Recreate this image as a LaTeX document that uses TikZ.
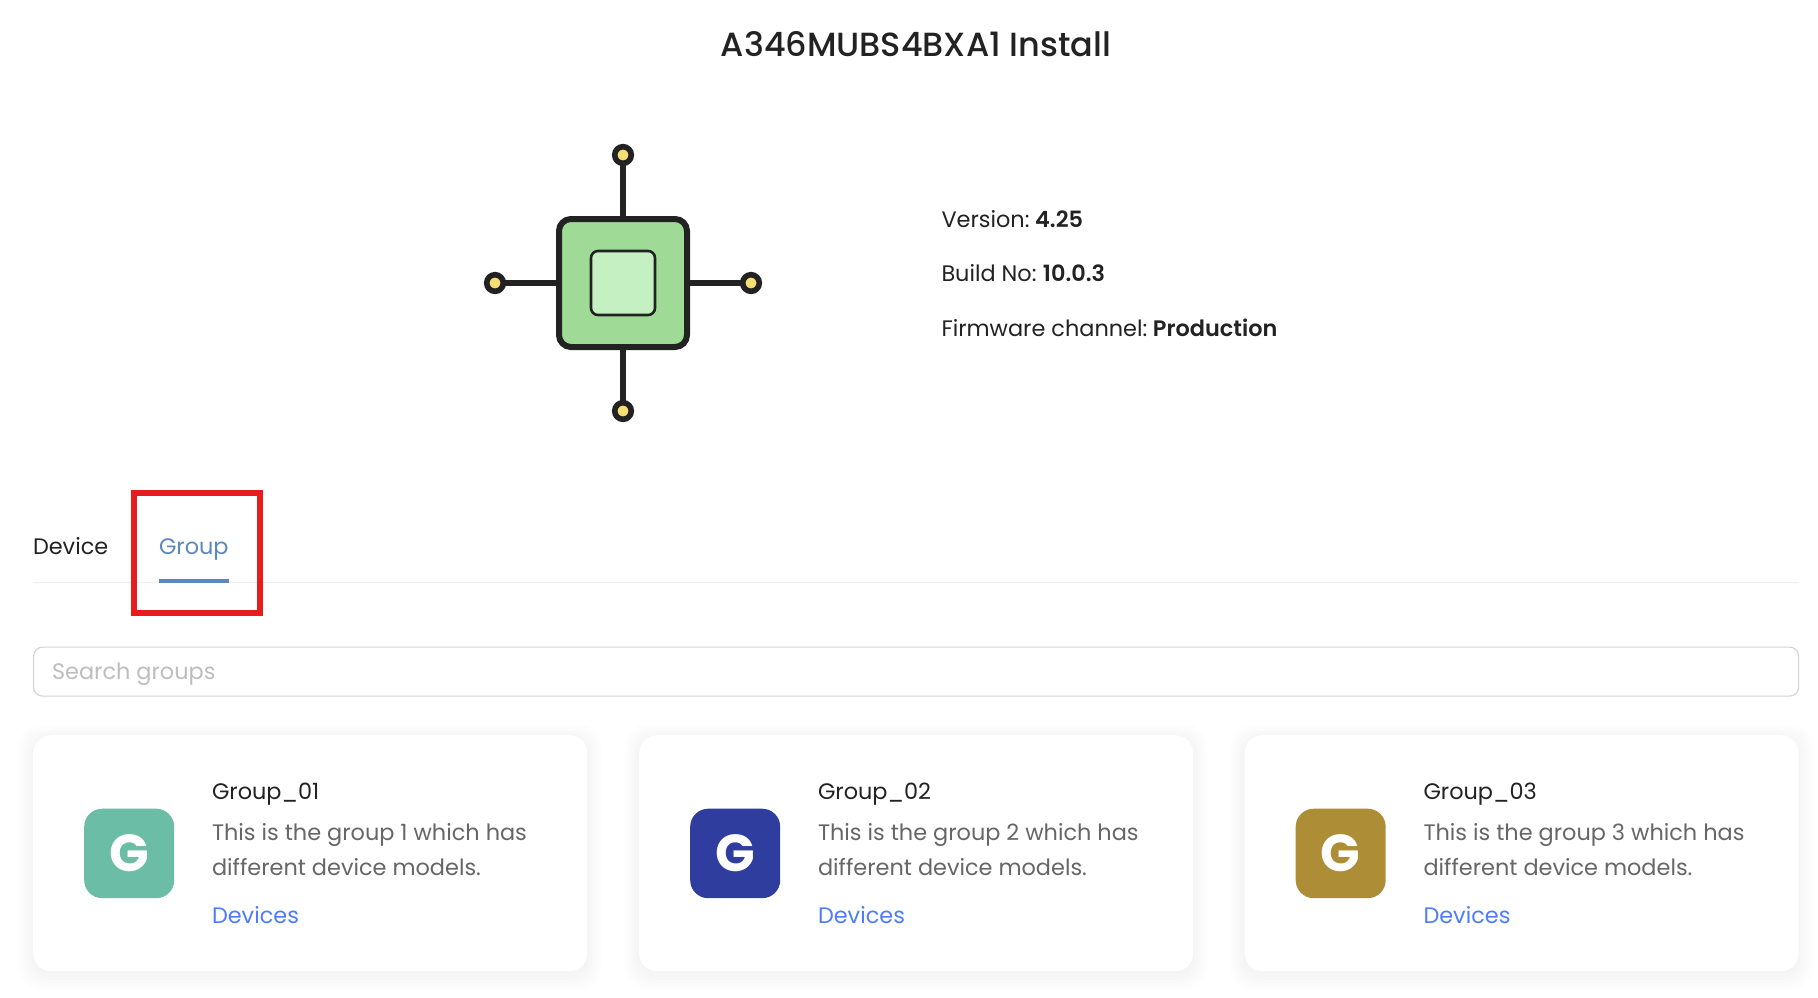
\documentclass[tikz,border=0pt]{standalone}
\usepackage{fontspec}
\setmainfont{Poppins}[BoldFont={Poppins SemiBold}]
\newfontfamily\titlefont{Poppins Medium}
\newfontfamily\gfont{Poppins Bold}
\definecolor{ink}{HTML}{222222}
\definecolor{leaf}{HTML}{9FDB96}
\definecolor{leaflight}{HTML}{C5F1C2}
\definecolor{pin}{HTML}{F5DE73}
\definecolor{tabblue}{HTML}{5B87BC}
\definecolor{linkblue}{HTML}{4D7CFE}
\definecolor{greytext}{HTML}{666666}
\definecolor{holder}{HTML}{BDBDBD}
\definecolor{redbox}{HTML}{E81C1C}
\definecolor{rulegrey}{HTML}{EEEEEE}
\definecolor{boxgrey}{HTML}{D4D4D4}
\definecolor{gteal}{HTML}{6CBDA5}
\definecolor{gblue}{HTML}{2F3E9E}
\definecolor{ggold}{HTML}{AD8D35}
\tikzset{
  txt/.style={anchor=base west,inner sep=0pt,outer sep=0pt,font=\fontsize{22.4}{28}\selectfont,text=ink},
  wire/.style={draw=ink,line width=6.4pt},
  pinnode/.style={circle,draw=ink,fill=pin,line width=5.6pt,minimum size=16.6pt,inner sep=0pt,outer sep=0pt},
}
\newcommand{\groupcard}[5]{%
  \foreach \g in {14,11,8,5,2}{
    \fill[black,opacity=0.006,rounded corners=20pt] (#1-\g,735-\g+4) rectangle (#1+554+\g,971+\g+4);
  }
  \node[draw=none,fill=white,rounded corners=18pt,minimum width=554pt,minimum height=236pt,inner sep=0pt,anchor=north west] (card#2) at (#1,735) {};
  \node[fill=#3,rounded corners=18pt,minimum width=90pt,minimum height=89.5pt,inner sep=0pt,anchor=north west] (icon#2) at (#1+51,808.5) {};
  \node[inner sep=0pt,anchor=base,text=white,font=\gfont\fontsize{52}{52}\selectfont] (letter#2) at (#1+96,871.5) {G};
  \node[txt] (title#2) at (#1+179,799.5) {#4};
  \node[txt,text=greytext] (desca#2) at (#1+179,840.5) {This is the group #5 which has};
  \node[txt,text=greytext] (descb#2) at (#1+179,875.5) {different device models.};
  \node[txt,text=linkblue] (link#2) at (#1+179,923.5) {Devices};
}
\begin{document}
\begin{tikzpicture}[x=1pt,y=-1pt]
\useasboundingbox (0,0) rectangle (1818,998);
\fill[white] (0,0) rectangle (1818,998);
\node[anchor=base,inner sep=0pt,font=\titlefont\fontsize{33.5}{40}\selectfont,text=ink] (title) at (916,57) {A346MUBS4BXA1 Install};
% chip
\node[pinnode] (pt) at (623,155) {};
\node[pinnode] (pb) at (623,411) {};
\node[pinnode] (pl) at (495,283) {};
\node[pinnode] (pr) at (751,283) {};
\node[draw=ink,fill=leaf,line width=6pt,rounded corners=12pt,minimum size=128pt,inner sep=0pt,outer sep=0pt] (chip) at (623,283) {};
\node[draw=ink,fill=leaflight,line width=2.6pt,rounded corners=7pt,minimum size=64pt,inner sep=0pt] (core) at (623,283) {};
\draw[wire] (pt) -- (chip);
\draw[wire] (pb) -- (chip);
\draw[wire] (pl) -- (chip);
\draw[wire] (pr) -- (chip);
% info
\node[txt] (ver) at (941.5,227.5) {Version:\hspace{5.6pt}\textbf{4.25}};
\node[txt] (build) at (941.5,281.5) {Build No:\hspace{6.4pt}\textbf{10.0.3}};
\node[txt] (fw) at (941.5,336.5) {Firmware channel:\hspace{5.6pt}\textbf{Production}};
% tabs
\coordinate (rulea) at (33,582);
\coordinate (ruleb) at (1799,582);
\draw[rulegrey,line width=1pt] (rulea) -- (ruleb);
\node[txt] (tabdev) at (33,554) {Device};
\node[txt,text=tabblue] (tabgrp) at (159,554) {Group};
\coordinate (ula) at (159,581);
\coordinate (ulb) at (229,581);
\draw[tabblue,line width=3.2pt] (ula) -- (ulb);
\node[draw=redbox,line width=6pt,minimum width=126pt,minimum height=120pt,inner sep=0pt] (redmark) at (197,552.5) {};
% search
\node[draw=boxgrey,line width=1.2pt,rounded corners=9pt,minimum width=1765pt,minimum height=49pt,inner sep=0pt,anchor=north west] (search) at (33,646.5) {};
\node[txt,text=holder] (holdertext) at (52,679) {Search groups};
% cards
\groupcard{33}{a}{gteal}{Group\_01}{1}
\groupcard{639}{b}{gblue}{Group\_02}{2}
\groupcard{1244.5}{c}{ggold}{Group\_03}{3}
\end{tikzpicture}
\end{document}
